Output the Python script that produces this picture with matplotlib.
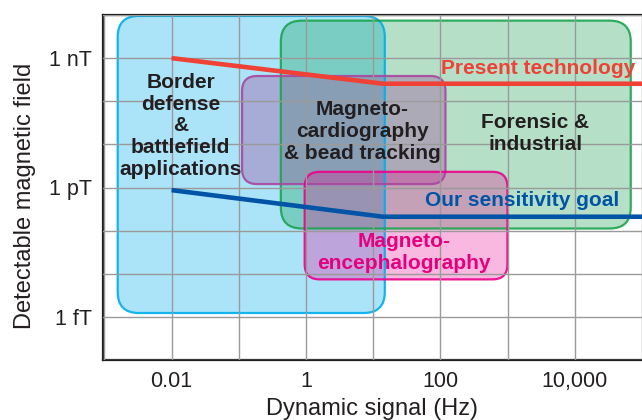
import numpy as np
import matplotlib
matplotlib.use("Agg")
import matplotlib.pyplot as plt
from matplotlib.patches import FancyBboxPatch
from matplotlib.transforms import IdentityTransform

plt.rcParams["font.family"] = ["Liberation Sans", "DejaVu Sans"]

# application regions: frequency span (Hz) and field span (T)
box_names = ["border", "forensic", "cardio", "enceph"]
box_x0 = [0.00158, 0.423, 0.112, 0.957]
box_x1 = [14.9, 68000.0, 119.0, 995.0]
box_ylo = [1.23e-15, 1.12e-13, 1.2e-12, 7.4e-15]
box_yhi = [9.5e-9, 7.4e-9, 3.85e-10, 2.31e-12]
box_face = ["#00aeef", "#0a9a48", "#a0529f", "#ec008c"]
box_edge = ["#00aeef", "#1aa54e", "#a9479f", "#ec008c"]
box_alpha = [0.33, 0.30, 0.38, 0.28]
box_radius = [21, 21, 15, 15]

# sensitivity curves
present_x = [0.01, 14.0, 1e5]
present_y = [1e-9, 2.55e-10, 2.55e-10]
goal_x = [0.01, 14.0, 1e5]
goal_y = [8.7e-13, 2.1e-13, 2.1e-13]

x_decades = [1e-3, 1e-2, 1e-1, 1e0, 1e1, 1e2, 1e3, 1e4, 1e5]
x_labels = ["", "0.01", "", "1", "", "100", "", "10,000", ""]
y_decades = [1e-16, 1e-15, 1e-14, 1e-13, 1e-12, 1e-11, 1e-10, 1e-9, 1e-8]
y_labels = ["", "1 fT", "", "", "1 pT", "", "", "1 nT", ""]

W, H = 642, 420
fig = plt.figure(figsize=(W / 100, H / 100), dpi=100)
ax = fig.add_axes([103 / W, 1 - 360 / H, 539 / W, 345 / H])
ax.set_xscale("log")
ax.set_yscale("log")
ax.set_xlim(10 ** -3.02, 10 ** 4.95)
ax.set_ylim(1e-16, 1e-8)

ax.set_xticks(x_decades)
ax.set_xticklabels(x_labels)
ax.set_yticks(y_decades)
ax.set_yticklabels(y_labels)
ax.minorticks_off()
ax.tick_params(axis="both", length=0, labelsize=15.5, colors="#231f20")
ax.tick_params(axis="x", pad=8)
ax.tick_params(axis="y", pad=8)
ax.grid(True, color="#9a9a9a", lw=1.0, zorder=2)
ax.set_axisbelow(False)
for s in ("left", "bottom", "top"):
    ax.spines[s].set_linewidth(1.6)
    ax.spines[s].set_color("#231f20")
ax.spines["right"].set_visible(False)

ax.set_xlabel("Dynamic signal (Hz)", fontsize=17, color="#231f20", labelpad=4)
ax.set_ylabel("Detectable magnetic field", fontsize=17, color="#231f20")
ax.yaxis.set_label_coords(-0.124, 0.475)

# rounded boxes are laid out in pixels so the corners stay circular on log axes
for i in range(len(box_names)):
    (px0, py0), (px1, py1) = ax.transData.transform(
        [(box_x0[i], box_ylo[i]), (box_x1[i], box_yhi[i])])
    style = f"round,pad=0,rounding_size={box_radius[i]}"
    fill = FancyBboxPatch((px0, py0), px1 - px0, py1 - py0, boxstyle=style,
                          transform=IdentityTransform(), facecolor=box_face[i],
                          alpha=box_alpha[i], edgecolor="none", zorder=1)
    edge = FancyBboxPatch((px0, py0), px1 - px0, py1 - py0, boxstyle=style,
                          transform=IdentityTransform(), facecolor="none",
                          edgecolor=box_edge[i], lw=1.6, alpha=0.9, zorder=1.5)
    ax.add_patch(fill)
    ax.add_patch(edge)

ax.plot(present_x, present_y, color="#ef4136", lw=3.3, zorder=3, solid_capstyle="butt")
ax.plot(goal_x, goal_y, color="#0054a6", lw=3.3, zorder=3, solid_capstyle="butt")

txt = dict(ha="center", va="center", fontweight="bold", fontsize=15,
           linespacing=1.18, zorder=4)
ax.text(0.0136, 2.7e-11, "Border\ndefense\n&\nbattlefield\napplications",
        color="#231f20", **txt)
ax.text(6.9, 2.0e-11, "Magneto-\ncardiography\n& bead tracking", color="#231f20", **txt)
ax.text(2600, 1.8e-11, "Forensic &\nindustrial", color="#231f20", **txt)
ax.text(2800, 5.9e-10, "Present technology", color="#ef4136", **txt)
ax.text(1650, 5.1e-13, "Our sensitivity goal", color="#0054a6", **txt)
ax.text(29, 3.1e-14, "Magneto-\nencephalography", color="#e6007e", **txt)

fig.savefig("out.png", dpi=100)
